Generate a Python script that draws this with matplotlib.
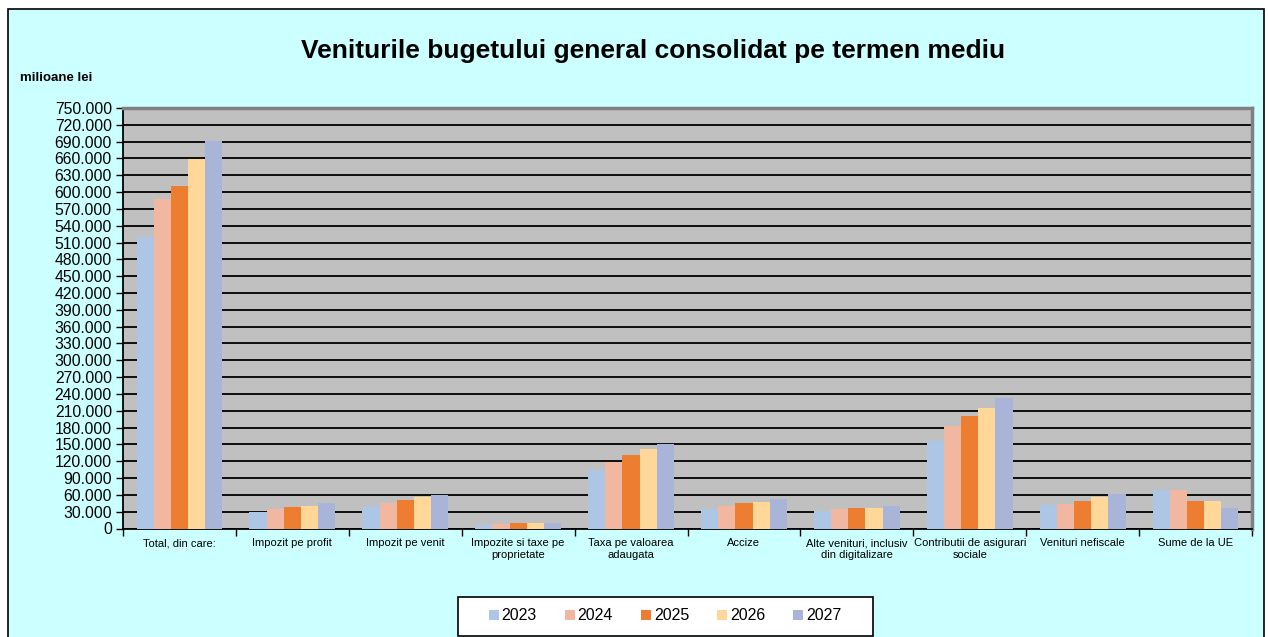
import numpy as np
import matplotlib.pyplot as plt
from matplotlib.patches import Rectangle
from matplotlib.ticker import FuncFormatter, MultipleLocator

plt.rcParams['font.family'] = ['Liberation Sans', 'DejaVu Sans']

# date (milioane lei)
categorii = ['Total, din care:', 'Impozit pe profit', 'Impozit pe venit',
             'Impozite si taxe pe\nproprietate', 'Taxa pe valoarea\nadaugata',
             'Accize', 'Alte venituri, inclusiv\ndin digitalizare',
             'Contributii de asigurari\nsociale', 'Venituri nefiscale',
             'Sume de la UE']
ani = ['2023', '2024', '2025', '2026', '2027']
v2023 = [520400, 28600, 40500, 6200, 103600, 35200, 30400, 155900, 41600, 68900]
v2024 = [587000, 35200, 45300, 8900, 119100, 40500, 35200, 183200, 43900, 68900]
v2025 = [611400, 38200, 50000, 9000, 130400, 45300, 36800, 201100, 49300, 49300]
v2026 = [659600, 40500, 55400, 10600, 141100, 47700, 36800, 215400, 56400, 49300]
v2027 = [691500, 45300, 60200, 10700, 150700, 52500, 39300, 232700, 61300, 36800]
culori = ['#AEC6E6', '#F2B7A1', '#ED7D31', '#FFD799', '#A8B4D8']

serii = [v2023, v2024, v2025, v2026, v2027]

W, H = 1268, 637
fig = plt.figure(figsize=(12.68, 6.37), dpi=100)
fig.patch.set_facecolor('white')
# chenarul diagramei
fig.add_artist(Rectangle((8 / W, -0.05), (1264 - 8) / W, 1.05 - 9 / H,
                         transform=fig.transFigure, facecolor='#CCFFFF',
                         edgecolor='black', linewidth=1.2, zorder=-5))

ax = fig.add_axes([123 / W, 1 - 528.5 / H, (1252 - 123) / W, (528.5 - 108) / H])
ax.set_zorder(2)
ax.set_facecolor('#C0C0C0')

x = np.arange(len(categorii))
w = 0.152
for i, (serie, an) in enumerate(zip(serii, ani)):
    ax.bar(x + (i - 2) * w, serie, width=w, color=culori[i], label=an, zorder=3)

ax.set_xlim(-0.5, len(categorii) - 0.5)
ax.set_ylim(0, 750000)
ax.yaxis.set_major_locator(MultipleLocator(30000))
ax.yaxis.set_major_formatter(FuncFormatter(lambda v, p: f'{int(v):,}'.replace(',', '.')))
ax.grid(axis='y', color='black', linewidth=1.3, zorder=1)
ax.tick_params(axis='y', labelsize=11.3, length=5, width=1, direction='out', pad=3)

ax.set_xticks(x)
ax.set_xticklabels(categorii, fontsize=8)
ax.set_xticks(np.arange(-0.5, len(categorii) + 0.5, 1), minor=True)
ax.tick_params(axis='x', which='major', length=0, pad=7)
ax.tick_params(axis='x', which='minor', length=5, width=1, direction='out')

for s in ['left', 'bottom']:
    ax.spines[s].set_color('black')
    ax.spines[s].set_linewidth(1.3)
for s in ['top', 'right']:
    ax.spines[s].set_color('#808080')
    ax.spines[s].set_linewidth(2.5)

fig.text(653 / W, 1 - 51 / H, 'Veniturile bugetului general consolidat pe termen mediu',
         ha='center', va='center', fontsize=19, fontweight='bold')
fig.text(20 / W, 1 - 78 / H, 'milioane lei', ha='left', va='center',
         fontsize=9.5, fontweight='bold')

# legenda cu chenar separat
fig.add_artist(Rectangle((458 / W, 1 - 636 / H), (873 - 458) / W, (636 - 597) / H,
                         transform=fig.transFigure, facecolor='white',
                         edgecolor='black', linewidth=1.2, zorder=3))
leg = fig.legend(loc='center', bbox_to_anchor=(665 / W, 1 - 616 / H), ncol=5,
                 fontsize=11.5, frameon=False,
                 handlelength=0.65, handleheight=0.65, handletextpad=0.15,
                 columnspacing=1.75)
leg.set_zorder(4)

fig.savefig('out.png', dpi=100)
